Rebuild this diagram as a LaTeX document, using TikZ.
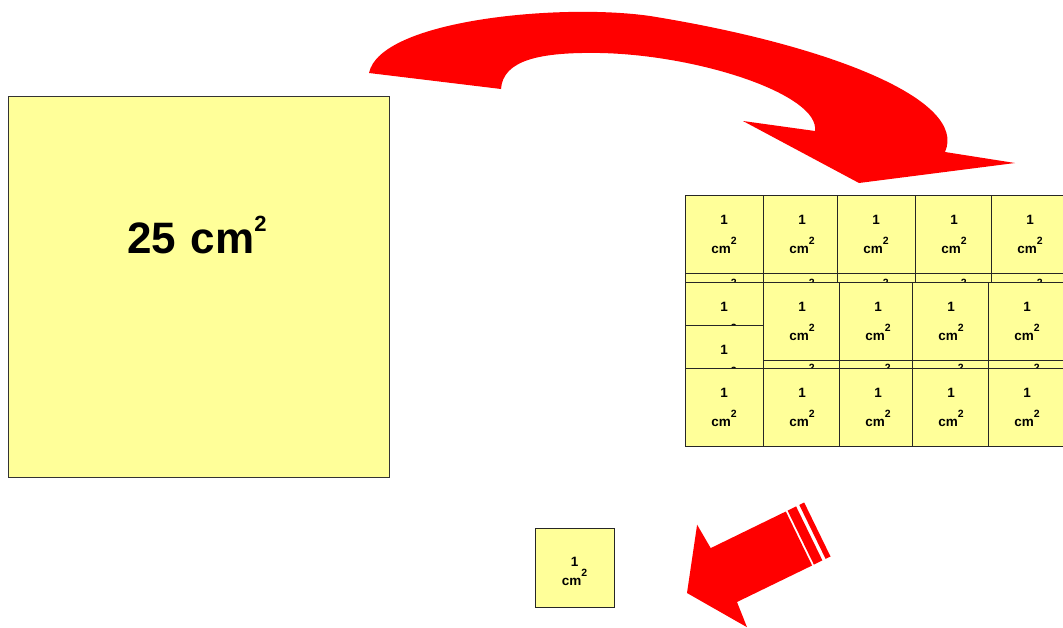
\documentclass[tikz,border=0pt]{standalone}
\usepackage{fontspec}
\setmainfont{Liberation Sans}
\definecolor{yfill}{RGB}{255,255,153}
\definecolor{arrred}{RGB}{255,0,0}
\newcommand\supsm{\raisebox{0.66em}{\fontsize{10.5}{10.5}\selectfont 2}}
\newcommand\supbig{\raisebox{0.5em}{\fontsize{22}{22}\selectfont 2}}
\tikzset{
  sqbox/.style={draw=black!85, line width=1pt, fill=yfill, minimum size=78pt, inner sep=0pt,
    align=center, font=\fontsize{13.5}{29}\selectfont\bfseries},
  bigbox/.style={draw=black!80, line width=0.9pt, fill=yfill, minimum size=381pt, inner sep=0pt},
  onebox/.style={draw=black!85, line width=0.9pt, fill=yfill, minimum size=79pt, inner sep=0pt},
  onetext/.style={align=center, inner sep=0pt, font=\fontsize{13.5}{19}\selectfont\bfseries},
  redarrow/.style={fill=arrred, draw=none},
}
\begin{document}
\begin{tikzpicture}[x=1pt,y=-1pt]
\clip (0,0) rectangle (1063,627);
\fill[white] (0,0) rectangle (1063,627);

% big square
\node[bigbox] (big) at (198.5,286.5) {};
\node[anchor=base west, inner sep=0pt, font=\fontsize{44}{44}\selectfont\bfseries] (bigtxt) at (127,253) {25\hspace{0.33em}cm\supbig};

% hidden squares (back layer)
\foreach \x [count=\i] in {724,802,876,954,1030} {
  \node[sqbox] (h1-\i) at (\x,276) {1\\cm\supsm};
}
\foreach \x [count=\i] in {802,878,951,1027} {
  \node[sqbox] (h2-\i) at (\x,361) {1\\cm\supsm};
}
% row 1
\foreach \x [count=\i] in {724,802,876,954,1030} {
  \node[sqbox] (r1-\i) at (\x,234) {1\\cm\supsm};
}
% row 2
\node[sqbox] (r2a) at (724,321) {1\\cm\supsm};
\foreach \x [count=\i] in {802,878,951,1027} {
  \node[sqbox] (r2-\i) at (\x,321) {1\\cm\supsm};
}
\node[sqbox] (r2b) at (724,364) {1\\cm\supsm};
% row 3
\foreach \x [count=\i] in {724,802,878,951,1027} {
  \node[sqbox] (r3-\i) at (\x,407) {1\\cm\supsm};
}

% single square
\node[onebox] (one) at (574.5,567.5) {};
\node[onetext] (onetxt) at (574.5,571) {1\\cm\supsm};

% curved arrow
\fill[redarrow] (369,73) -- (501,89)
  .. controls (503,60) and (540,52) .. (600,53)
  .. controls (700,55) and (820,95) .. (815,131)
  -- (743,121) -- (859,183) -- (1015,163) -- (945,152)
  .. controls (968,100) and (830,45) .. (650,16)
  .. controls (560,3) and (380,20) .. (369,73) -- cycle;

% straight arrow with bands
\fill[redarrow] (687,593) -- (697.1,524.7) -- (710.7,548.1) -- (785.8,511.5)
  -- (812.1,565.5) -- (737,602) -- (747,627.2) -- cycle;
\fill[redarrow] (787.6,510.6) -- (796.1,506.4) -- (822.4,560.4) -- (813.9,564.6) -- cycle;
\fill[redarrow] (799.3,504.9) -- (804.2,502.5) -- (830.5,556.5) -- (825.6,558.9) -- cycle;
\end{tikzpicture}
\end{document}
